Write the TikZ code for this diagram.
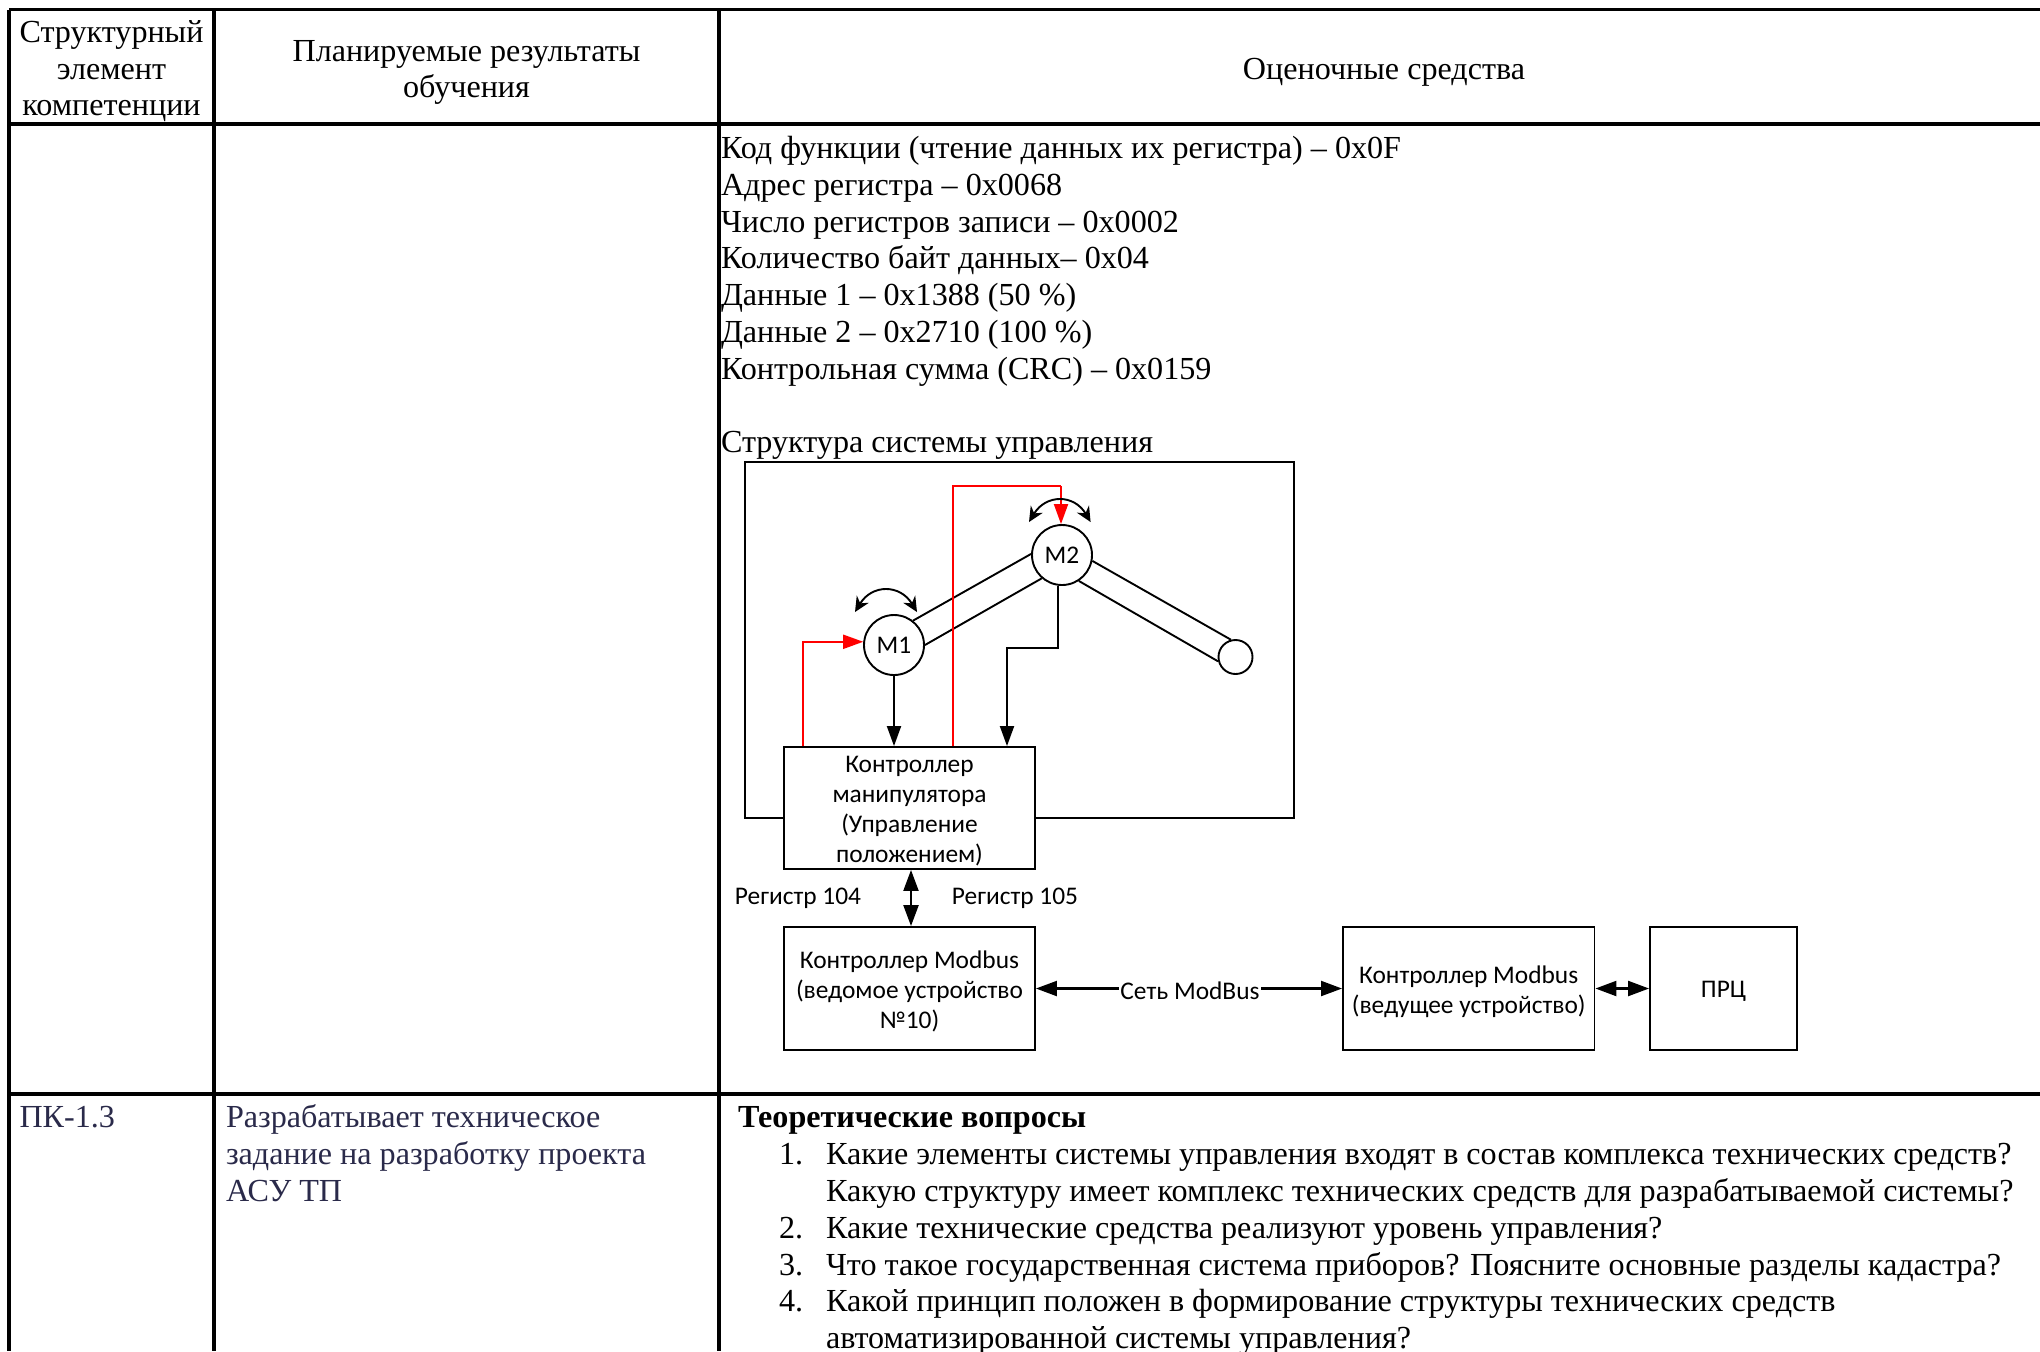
\documentclass[tikz,border=0pt]{standalone}
\usepackage{fontspec}
\setmainfont{Liberation Serif}
\newfontfamily\diagfont{Carlito}
\usetikzlibrary{arrows.meta}
\definecolor{navy}{HTML}{2A2A4A}
\tikzset{
  x=0.5pt,y=-0.5pt,
  grid/.style={line width=1.9pt,black},
  thin line/.style={line width=0.95pt,black},
  txt/.style={anchor=base west,inner sep=0pt,outer sep=0pt,yshift=-0.6pt,font=\fontsize{16.06}{18}\selectfont},
  ctxt/.style={txt,anchor=base,align=center},
  box/.style={draw,line width=0.95pt,fill=white,inner sep=0pt},
  boxtext/.style={inner sep=0pt,align=center,yshift=-1.6pt,font=\diagfont\fontsize{12.7}{15}\selectfont},
  motor/.style={circle,draw,line width=0.95pt,fill=white,inner sep=0pt,minimum size=30pt,font=\diagfont\fontsize{12.7}{15}\selectfont},
  lab/.style={inner sep=0pt,font=\diagfont\fontsize{12.7}{15}\selectfont},
  tip/.style={-{Triangle[length=10pt,width=7pt]},line width=0.95pt},
  dtip/.style={{Triangle[length=10.5pt,width=7.5pt]}-{Triangle[length=10.5pt,width=7.5pt]},line width=1.1pt},
  swing/.style={{Stealth[length=7.5pt,width=7pt]}-{Stealth[length=7.5pt,width=7pt]},line width=0.95pt},
  redline/.style={color={rgb,255:red,255;green,0;blue,0}},
}
\begin{document}
\begin{tikzpicture}
\useasboundingbox (0,0) rectangle (2040,1351);
\clip (0,0) rectangle (2040,1351);
\fill[white] (0,0) rectangle (2040,1351);

% table grid
\coordinate (tl) at (9,9.5); \coordinate (tr) at (2040,9.5);
\coordinate (hl) at (9,124); \coordinate (hr) at (2040,124);
\coordinate (rl) at (9,1094); \coordinate (rr) at (2040,1094);
\coordinate (bl) at (9,1351); \coordinate (cb1) at (214,1351); \coordinate (cb2) at (719,1351);
\coordinate (ct1) at (214,9.5); \coordinate (ct2) at (719,9.5);
\draw[grid] (tl)--(tr);
\draw[grid] (hl)--(hr);
\draw[grid] (rl)--(rr);
\draw[grid] (tl)--(bl);
\draw[grid] (ct1)--(cb1);
\draw[grid] (ct2)--(cb2);

% header
\node[ctxt] (h1a) at (111.5,41) {Структурный};
\node[ctxt] (h1b) at (111.5,78) {элемент};
\node[ctxt] (h1c) at (111.5,114.5) {компетенции};
\node[ctxt] (h2a) at (466.5,60) {Планируемые результаты};
\node[ctxt] (h2b) at (466.5,96.5) {обучения};
\node[ctxt] (h3) at (1384,78) {Оценочные средства};

% register text
\node[txt] (r1) at (721,157.5) {Код функции (чтение данных их регистра) – 0x0F};
\node[txt] (r2) at (721,194.3) {Адрес регистра – 0x0068};
\node[txt] (r3) at (721,231) {Число регистров записи – 0x0002};
\node[txt] (r4) at (721,267.7) {Количество байт данных– 0x04};
\node[txt] (r5) at (721,304.5) {Данные 1 – 0x1388 (50 \%)};
\node[txt] (r6) at (721,341.2) {Данные 2 – 0x2710 (100 \%)};
\node[txt] (r7) at (721,378) {Контрольная сумма (CRC) – 0x0159};
\node[txt] (r8) at (721,451.5) {Структура системы управления};

% diagram
\coordinate (framenw) at (745,462); \coordinate (framese) at (1294,818);
\draw[thin line] (framenw) rectangle (framese);

\node[motor] (M1) at (894,645) {М1};
\node[motor] (M2) at (1062,555) {М2};
\node[circle,draw,line width=0.95pt,fill=white,inner sep=0pt,minimum size=17pt] (E) at (1235.5,657) {};

\draw[thin line] (M1.52) -- (M2.178);
\draw[thin line] (M1.0) -- (M2.229);
\draw[thin line] (M2.-11) -- (E.105);
\draw[thin line] (M2.-57) -- (E.194);

\node[box,minimum width=125.5pt,minimum height=61pt,label={[boxtext]center:{Контроллер\\манипулятора\\(Управление\\положением)}}] (ctrl) at (909.5,808) {};
\node[box,minimum width=125.5pt,minimum height=61.5pt,label={[boxtext]center:{Контроллер Modbus\\(ведомое устройство\\№10)}}] (slave) at (909.5,988.5) {};
\node[box,minimum width=125.75pt,minimum height=61.5pt,label={[boxtext]center:{Контроллер Modbus\\(ведущее устройство)}}] (master) at (1468.7,988.5) {};
\node[box,minimum width=73.5pt,minimum height=61.5pt,label={[boxtext]center:{ПРЦ}}] (plc) at (1723.5,988.5) {};

\coordinate (ra) at (803,0);
\coordinate (rb) at (953,0);
\coordinate (rtop) at (0,486);
\coordinate (rdrop) at (1061,0);
\coordinate (bk) at (1058,0);
\coordinate (bkmid) at (0,648);
\coordinate (bkx) at (1007,0);

\draw[tip,redline] (ctrl.north -| ra) |- (M1.174);
\draw[redline,line width=0.95pt] (ctrl.north -| rb) -- (rb |- rtop) -- (rdrop |- rtop);
\draw[tip,redline] (rdrop |- rtop) -- (rdrop |- M2.north);
\draw[tip] (M1.south) -- (ctrl.north -| M1.south);
\draw[tip] (M2.south -| bk) -- (bk |- bkmid) -- (bkx |- bkmid) -- (ctrl.north -| bkx);

\coordinate (s1a) at (855,612); \coordinate (s1b) at (917,612);
\coordinate (s2a) at (1029,522); \coordinate (s2b) at (1090.6,522);
\draw[swing] (s1a) .. controls (872,584) and (900,584) .. (s1b);
\draw[swing] (s2a) .. controls (1046,494) and (1074,494) .. (s2b);

\draw[dtip] (ctrl.south -| slave.north) ++(1.5,0) coordinate (dv1) -- (slave.north -| dv1);
\draw[dtip] (slave.east) -- (master.west);
\draw[dtip] (master.east) -- (plc.west);

\node[lab] (reg104) at (798,898.5) {Регистр 104};
\node[lab] (reg105) at (1015,898.5) {Регистр 105};
\node[lab,fill=white,inner xsep=0.5pt] (net) at (1190,991) {Сеть ModBus};

% lower row
\node[txt,text=navy] (pk) at (19.5,1126.6) {ПК-1.3};
\node[txt,text=navy] (d1) at (226,1126.6) {Разрабатывает техническое};
\node[txt,text=navy] (d2) at (226,1163.4) {задание на разработку проекта};
\node[txt,text=navy] (d3) at (226,1200.2) {АСУ ТП};

\node[txt,font=\bfseries\fontsize{16.06}{18}\selectfont] (q0) at (738,1126.6) {Теоретические вопросы};
\node[txt] (n1) at (779,1163.4) {1.};
\node[txt] (q1) at (826,1163.4) {Какие элементы системы управления входят в состав комплекса технических средств?};
\node[txt] (q1b) at (826,1200.2) {Какую структуру имеет комплекс технических средств для разрабатываемой системы?};
\node[txt] (n2) at (779,1237) {2.};
\node[txt] (q2) at (826,1237) {Какие технические средства реализуют уровень управления?};
\node[txt] (n3) at (779,1273.8) {3.};
\node[txt] (q3) at (826,1273.8) {Что такое государственная система приборов? Поясните основные разделы кадастра?};
\node[txt] (n4) at (779,1310.6) {4.};
\node[txt] (q4) at (826,1310.6) {Какой принцип положен в формирование структуры технических средств};
\node[txt] (q4b) at (826,1347.4) {автоматизированной системы управления?};
\end{tikzpicture}
\end{document}
